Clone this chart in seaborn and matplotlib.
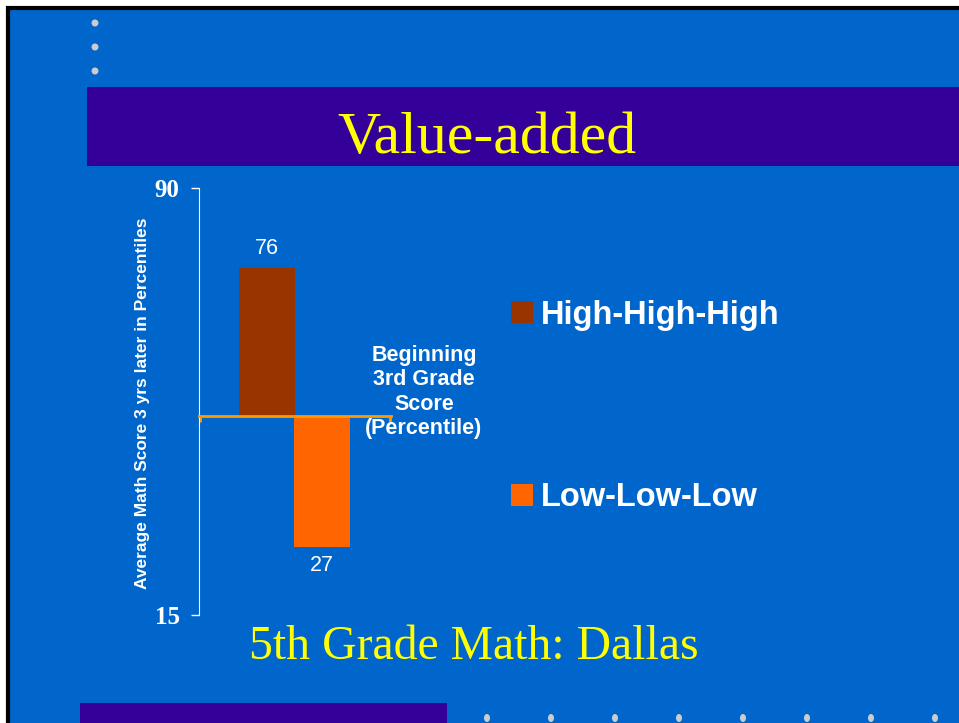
import pandas as pd
import seaborn as sns
import matplotlib.pyplot as plt
from matplotlib.patches import Rectangle, Ellipse

groups = ['High-High-High', 'Low-Low-Low']
scores = [76, 27]
baseline = 50
bar_colors = ['#993300', '#FF6600']

sns.set_style('ticks')
plt.rcParams['font.family'] = ['Liberation Sans', 'DejaVu Sans']

df = pd.DataFrame({'group': groups, 'score': scores})
df['diff'] = df['score'] - baseline

fig = plt.figure(figsize=(9.59, 7.23), dpi=100, facecolor='white')
W, H = 959, 723

def fx(px):
    return px / W

def fy(py):
    return 1 - py / H

# slide background, frame and decorations (drawn below the axes)
fig.patches.append(Rectangle((fx(8), -0.1), 1.1, fy(8) + 0.1, transform=fig.transFigure,
                             facecolor='#0066CC', edgecolor='black', linewidth=3, zorder=-3))
fig.patches.append(Rectangle((fx(87), fy(166)), 1.0, (166 - 87) / H, transform=fig.transFigure,
                             facecolor='#330099', edgecolor='none', zorder=-2))
fig.patches.append(Rectangle((fx(80), -0.05), (447 - 80) / W, (723 - 703) / H + 0.05,
                             transform=fig.transFigure, facecolor='#330099', edgecolor='none', zorder=-2))
for yy in [23, 47, 71]:
    fig.patches.append(Ellipse((fx(95), fy(yy)), 7 / W, 7 / H, transform=fig.transFigure,
                               facecolor='#CCCCCC', edgecolor='none', zorder=-2))
for xx in [487, 551, 615, 679, 743, 807, 871, 935]:
    fig.patches.append(Ellipse((fx(xx), fy(718)), 6 / W, 8 / H, transform=fig.transFigure,
                               facecolor='#CCCCCC', edgecolor='none', zorder=-2))

ax = fig.add_axes([fx(199), fy(615), (391 - 199) / W, (615 - 188) / H])
ax.set_facecolor('none')

sns.barplot(data=df, x='group', y='diff', hue='group', palette=dict(zip(groups, bar_colors)),
            width=1.02, bottom=baseline, ax=ax, legend=False, saturation=1,
            linewidth=0, edgecolor='none')

ax.set_ylim(15, 90)
ax.set_xlim(-1.236, 2.254)
ax.set_yticks([15, 90])
ax.set_yticklabels(['15', '90'], family='Liberation Serif', fontweight='bold', fontsize=18)
ax.tick_params(axis='y', colors='white', length=6, width=1, pad=8)
ax.set_xticks([-1.225, 2.24])
ax.set_xticklabels([])
ax.tick_params(axis='x', colors='#FF9900', length=4, width=2)
ax.set_xlabel('')
ax.set_ylabel('')
ax.spines['top'].set_visible(False)
ax.spines['right'].set_visible(False)
ax.spines['left'].set_color('white')
ax.spines['bottom'].set_position(('data', baseline))
ax.spines['bottom'].set_color('#FF9900')
ax.spines['bottom'].set_linewidth(2)

for cont, s in zip(ax.containers, scores):
    ax.bar_label(cont, labels=[str(s)], padding=6, color='white', fontsize=15.5)

handles = [c.patches[0] for c in ax.containers]
ax.legend(handles, groups, loc='center left', bbox_to_anchor=(fx(511), fy(406.5)),
          bbox_transform=fig.transFigure, frameon=False, labelcolor='white',
          prop={'weight': 'bold', 'size': 23.5}, handlelength=0.67, handleheight=0.67,
          handletextpad=0.24, labelspacing=4.64, borderpad=0, borderaxespad=0)

fig.text(fx(143), fy(403), 'Average Math Score 3 yrs later in Percentiles', rotation=90,
         ha='center', va='center', color='white', fontweight='bold', fontsize=12.5)
fig.text(fx(424), fy(392), 'Beginning\n3rd Grade\nScore\n(Percentile)', ha='center', va='center',
         multialignment='center', color='white', fontweight='bold', fontsize=15.5, linespacing=1.2)
fig.text(fx(487), fy(153), 'Value-added', ha='center', va='baseline', color='#FFFF00',
         family='Liberation Serif', fontsize=43)
fig.text(fx(474), fy(659), '5th Grade Math: Dallas', ha='center', va='baseline', color='#FFFF00',
         family='Liberation Serif', fontsize=34.4)

fig.savefig('out.png', dpi=100, facecolor='white')
